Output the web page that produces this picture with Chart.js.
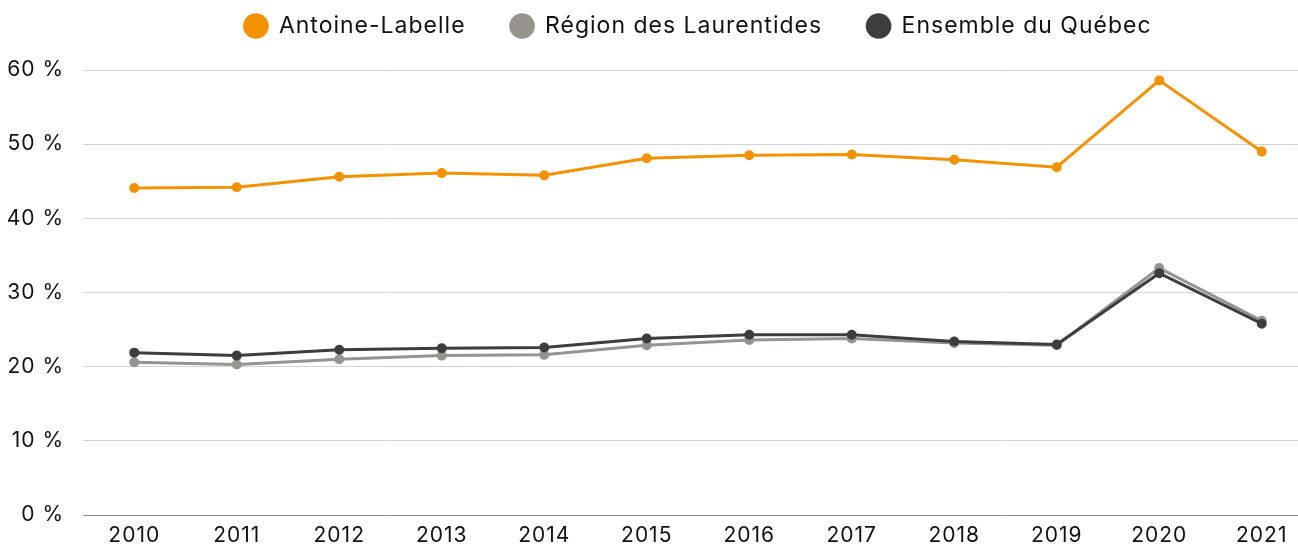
<!DOCTYPE html>
<html>
<head>
<meta charset="utf-8">
<script src="https://cdn.jsdelivr.net/npm/chart.js@4"></script>
<style>
  html, body { margin: 0; padding: 0; background: #fff; overflow: hidden; }
  #wrap { width: 1321px; height: 545px; }
</style>
</head>
<body>
<div id="wrap"><canvas id="myChart"></canvas></div>
<script>
const years = ['2010', '2011', '2012', '2013', '2014', '2015', '2016', '2017', '2018', '2019', '2020', '2021'];
const antoineLabelle = [44.1, 44.2, 45.6, 46.1, 45.8, 48.1, 48.5, 48.6, 47.9, 46.9, 58.6, 49.0];
const laurentides = [20.6, 20.3, 21.0, 21.5, 21.6, 22.9, 23.6, 23.8, 23.2, 22.9, 33.3, 26.2];
const quebec = [21.9, 21.5, 22.3, 22.5, 22.6, 23.8, 24.3, 24.3, 23.4, 23.0, 32.6, 25.8];
const seriesNames = ['Antoine-Labelle', 'Région des Laurentides', 'Ensemble du Québec'];
const colors = ['#f39200', '#97938f', '#3d3d3d'];
const yTicks = [0, 10, 20, 30, 40, 50, 60];

Chart.defaults.font.family = "Inter, 'Noto Sans', sans-serif";
Chart.defaults.color = '#111';

const ctx = document.getElementById('myChart');

// Poppins-like spacing: widen the text a bit
const letterSpacing = {
    id: 'letterSpacing',
    beforeUpdate(chart) { chart.ctx.letterSpacing = '1px'; },
    beforeDraw(chart) { chart.ctx.letterSpacing = '1px'; }
};

// keep the legend row compact while items stay well apart
const legendHeight = {
    id: 'legendHeight',
    beforeLayout(chart) {
        const lg = chart.legend;
        if (lg && !lg._patched) {
            const fit = lg.fit.bind(lg);
            lg.fit = function () { fit(); this.height = 100.5; };
            lg._patched = true;
        }
    }
};

function makeDataset(label, data, color, order) {
    return {
        label: label,
        data: data,
        order: order,
        borderColor: color,
        backgroundColor: color,
        pointBackgroundColor: color,
        pointBorderColor: color,
        borderWidth: 3,
        pointRadius: 3.5,
        pointHoverRadius: 5,
        tension: 0
    };
}

new Chart(ctx, {
    type: 'line',
    data: {
        labels: years,
        datasets: [
            makeDataset(seriesNames[0], antoineLabelle, colors[0], 0),
            makeDataset(seriesNames[1], laurentides, colors[1], 2),
            makeDataset(seriesNames[2], quebec, colors[2], 1)
        ]
    },
    options: {
        responsive: true,
        maintainAspectRatio: false,
        animation: false,
        layout: { padding: { top: -30.5, right: 0, bottom: 0, left: 0 } },
        scales: {
            x: {
                offset: true,
                grid: { display: false, drawTicks: true, tickLength: 11 },
                border: { display: false },
                ticks: { font: { size: 21, lineHeight: 0.9 }, color: '#111', padding: 0 }
            },
            y: {
                min: 0,
                max: 60,
                afterFit(scale) { scale.width = 83; },
                afterBuildTicks(scale) { scale.ticks = yTicks.map(v => ({ value: v })); },
                grid: {
                    color: c => c.tick.value === 0 ? '#8a8a8a' : '#d4d4d4',
                    lineWidth: 1,
                    drawTicks: true,
                    tickLength: 19,
                    tickColor: 'rgba(0,0,0,0)'
                },
                border: { display: false },
                ticks: {
                    font: { size: 21 },
                    color: '#111',
                    padding: 0,
                    callback: v => v + ' %'
                }
            }
        },
        plugins: {
            legend: {
                position: 'top',
                fullSize: false,
                labels: {
                    usePointStyle: true,
                    pointStyle: 'circle',
                    boxWidth: 28,
                    boxHeight: 16,
                    padding: 45,
                    font: { size: 23 },
                    color: '#111',
                    sort: (a, b) => a.datasetIndex - b.datasetIndex
                }
            },
            tooltip: { enabled: true }
        }
    },
    plugins: [letterSpacing, legendHeight]
});
</script>
</body>
</html>
